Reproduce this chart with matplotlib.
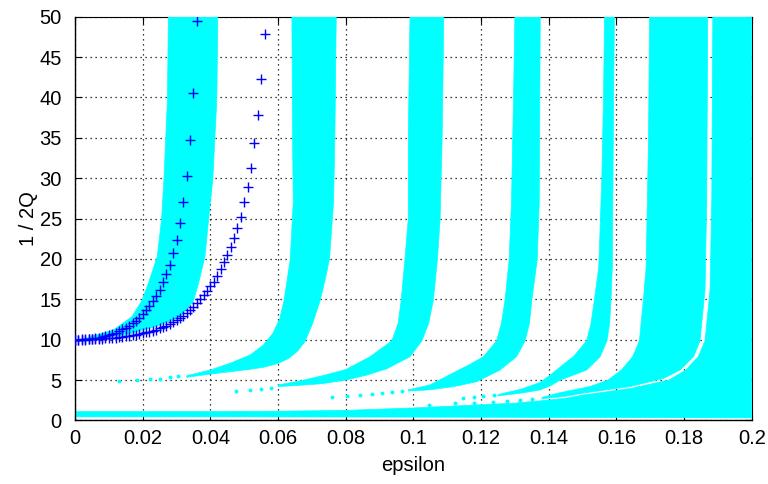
import numpy as np
import matplotlib
matplotlib.use('Agg')
import matplotlib.pyplot as plt

plt.rcParams['font.family'] = ['Liberation Sans', 'DejaVu Sans']

# blue crosses: two branches leaving (0, 10), one point per 0.001 in epsilon
epsA = np.arange(37) * 0.001
qA = [10.0, 10.01, 10.03, 10.05, 10.09, 10.14, 10.2, 10.27, 10.36, 10.46,
      10.58, 10.72, 10.88, 11.06, 11.27, 11.5, 11.76, 12.05, 12.38, 12.75,
      13.16, 13.7, 14.2, 14.75, 15.4, 16.2, 17.1, 18.1, 19.3, 20.7,
      22.3, 24.4, 27.0, 30.3, 34.7, 40.6, 49.5]
epsB = np.arange(57) * 0.001
qB = [10.0, 10.0, 10.01, 10.02, 10.03, 10.05, 10.07, 10.1, 10.13, 10.16,
      10.2, 10.23, 10.27, 10.31, 10.36, 10.41, 10.47, 10.54, 10.62, 10.7,
      10.8, 10.9, 11.0, 11.12, 11.25, 11.4, 11.55, 11.7, 11.9, 12.15,
      12.4, 12.7, 13.0, 13.35, 13.7, 14.1, 14.55, 15.0, 15.5, 16.05,
      16.6, 17.2, 17.9, 18.7, 19.6, 20.5, 21.5, 22.6, 23.8, 25.2,
      27.0, 28.9, 31.3, 34.3, 37.8, 42.3, 47.9]

# cyan regions: outer (upper-left) edge and inner (lower-right) edge of each tongue
b1_up_x = [0.002, 0.0113, 0.0168, 0.0197, 0.0217, 0.0243, 0.0256, 0.0263, 0.0273, 0.0276]
b1_up_y = [10.05, 11.2, 12.85, 14.8, 17.0, 20.3, 25, 30, 39.7, 50]
b1_lo_x = [0.002, 0.015, 0.025, 0.031, 0.035, 0.0365, 0.0384, 0.0395, 0.0407, 0.0419, 0.0422]
b1_lo_y = [10.05, 10.6, 11.8, 12.85, 14.8, 17.0, 20.3, 25, 29.8, 39.7, 50]

b2_up_x = [0.033, 0.040, 0.0458, 0.0517, 0.0557, 0.0585, 0.0605, 0.0618, 0.0636, 0.0645, 0.0643, 0.0641]
b2_up_y = [5.55, 6.25, 7.08, 8.1, 9.35, 10.8, 12.6, 14.9, 19.9, 27, 35, 50]
b2_lo_x = [0.033, 0.040, 0.0458, 0.0517, 0.0557, 0.0601, 0.0632, 0.0658, 0.068, 0.0702, 0.0724, 0.0739, 0.0752, 0.0764, 0.0768, 0.0772]
b2_lo_y = [5.35, 5.75, 6.04, 6.34, 6.59, 7.08, 7.7, 8.6, 9.8, 12.0, 14.8, 17.4, 20, 27, 35, 50]

b3_up_x = [0.060, 0.066, 0.0727, 0.080, 0.0872, 0.0936, 0.0955, 0.0964, 0.0975, 0.0985, 0.0985, 0.099]
b3_up_y = [4.4, 4.85, 5.5, 6.3, 7.9, 9.85, 12, 14.9, 19.9, 25, 35, 50]
b3_lo_x = [0.060, 0.066, 0.0727, 0.080, 0.086, 0.0921, 0.099, 0.1025, 0.1045, 0.1059, 0.1071, 0.1079, 0.1085, 0.109]
b3_lo_y = [4.2, 4.35, 4.55, 5.0, 5.6, 6.4, 7.9, 9.85, 12, 14.9, 19.9, 25, 35, 50]

b4_up_x = [0.0985, 0.1049, 0.1118, 0.1165, 0.1207, 0.1246, 0.126, 0.1271, 0.1283, 0.129, 0.1296, 0.130]
b4_up_y = [3.8, 4.4, 5.9, 6.9, 7.9, 9.85, 12, 14.9, 19.9, 27, 40, 50]
b4_lo_x = [0.0985, 0.1049, 0.1118, 0.1187, 0.1256, 0.1305, 0.133, 0.1343, 0.135, 0.1366, 0.1372, 0.1375]
b4_lo_y = [3.65, 3.8, 4.19, 4.8, 6.25, 7.9, 9.85, 12, 14.9, 19.9, 27, 50]

b5_up_x = [0.125, 0.132, 0.1374, 0.1404, 0.1442, 0.1473, 0.1512, 0.1525, 0.1535, 0.1548, 0.1557, 0.1562, 0.1565]
b5_up_y = [3.2, 3.9, 4.7, 5.6, 6.9, 7.9, 9.85, 12, 14.9, 19, 30, 40, 50]
b5_lo_x = [0.125, 0.132, 0.1374, 0.1405, 0.1434, 0.1512, 0.1552, 0.1572, 0.158, 0.1584, 0.1588, 0.1591, 0.1594]
b5_lo_y = [3.05, 3.4, 3.78, 4.3, 5.0, 6.25, 7.9, 9.85, 12, 14.9, 19, 35.6, 50]

b6_up_x = [0.138, 0.1434, 0.1522, 0.1575, 0.1615, 0.1648, 0.1668, 0.168, 0.1688, 0.1695, 0.1698]
b6_up_y = [2.85, 3.45, 4.2, 5.0, 6.25, 7.9, 9.85, 15, 19, 35, 50]
b6_lo_x = [0.138, 0.145, 0.1502, 0.164, 0.1739, 0.1788, 0.1828, 0.1847, 0.1862, 0.1867, 0.187]
b6_lo_y = [2.7, 3.0, 3.4, 4.2, 5.2, 6.25, 7.9, 9.85, 16.2, 27.3, 50]

# last tongue joined with the low band along the bottom
b7_top_x = [0.0, 0.03, 0.06, 0.08, 0.09, 0.10, 0.11, 0.12, 0.13, 0.138, 0.145, 0.1502,
            0.164, 0.1755, 0.1805, 0.1842, 0.1862, 0.1877, 0.1882, 0.1885, 0.2]
b7_top_y = [1.1, 1.1, 1.15, 1.25, 1.4, 1.55, 1.75, 1.95, 2.15, 2.45, 2.75, 3.15,
            3.95, 5.0, 6.25, 7.9, 9.85, 16.2, 27.3, 50, 50]
b7_bot_x = [0.0, 0.05, 0.10, 0.15, 0.2]
b7_bot_y = [0.45, 0.45, 0.42, 0.38, 0.32]

# isolated points on the thin ends of the tongues
dots_x = [0.0131, 0.0184, 0.0222, 0.0251, 0.0281, 0.0305,
          0.0475, 0.0517, 0.0549, 0.058,
          0.0759, 0.0803, 0.0842, 0.0877, 0.0906, 0.0936, 0.0966,
          0.1148, 0.1178, 0.1207, 0.1237,
          0.1045, 0.1123, 0.118, 0.1235, 0.1276, 0.1315, 0.135]
dots_y = [4.9, 4.97, 5.1, 5.2, 5.35, 5.5,
          3.65, 3.8, 3.92, 4.02,
          2.95, 3.03, 3.15, 3.28, 3.37, 3.49, 3.65,
          2.75, 2.95, 3.03, 3.12,
          1.92, 2.13, 2.22, 2.3, 2.38, 2.5, 2.62]

cyan = '#00ffff'

fig = plt.figure(figsize=(7.68, 4.84), dpi=100)
ax = fig.add_axes([0.0977, 0.1312, 0.8811, 0.8343])
ax.set_axisbelow(True)

bands = [(b1_up_x, b1_up_y, b1_lo_x, b1_lo_y),
         (b2_up_x, b2_up_y, b2_lo_x, b2_lo_y),
         (b3_up_x, b3_up_y, b3_lo_x, b3_lo_y),
         (b4_up_x, b4_up_y, b4_lo_x, b4_lo_y),
         (b5_up_x, b5_up_y, b5_lo_x, b5_lo_y),
         (b6_up_x, b6_up_y, b6_lo_x, b6_lo_y)]
for ux, uy, lx, ly in bands:
    px = list(ux) + list(lx)[::-1]
    py = list(uy) + list(ly)[::-1]
    ax.fill(px, py, color=cyan, lw=0.5, zorder=1)

ax.fill(list(b7_top_x) + b7_bot_x[::-1], list(b7_top_y) + b7_bot_y[::-1],
        color=cyan, lw=0.5, zorder=1)
ax.plot(dots_x, dots_y, 'o', color=cyan, ms=2.8, mew=0, zorder=1)

ax.plot(epsA, qA, '+', color='#0000ff', ms=7, mew=1.0, zorder=4)
ax.plot(epsB, qB, '+', color='#0000ff', ms=7, mew=1.0, zorder=4)

ax.set_xlim(0, 0.2)
ax.set_ylim(0, 50)
ax.set_xticks(np.arange(0, 0.201, 0.02))
ax.set_xticklabels(['0', '0.02', '0.04', '0.06', '0.08', '0.1', '0.12', '0.14', '0.16', '0.18', '0.2'])
ax.set_yticks(np.arange(0, 51, 5))
ax.grid(True, color='black', linestyle=(0, (1, 3)), linewidth=0.9)
ax.tick_params(direction='in', length=5, width=0.8, top=True, right=True, labelsize=14.5)
ax.tick_params(axis='x', pad=6)
ax.tick_params(axis='y', pad=9.5)
for s in ['top', 'right']:
    ax.spines[s].set_zorder(0.5)
for s in ['left', 'bottom']:
    ax.spines[s].set_zorder(3)
    ax.spines[s].set_linewidth(1.0)

ax.set_xlabel('epsilon', fontsize=14.5, labelpad=6)
ax.set_ylabel('1 / 2Q', fontsize=14.5, labelpad=1)

fig.savefig('out.png', dpi=100)
